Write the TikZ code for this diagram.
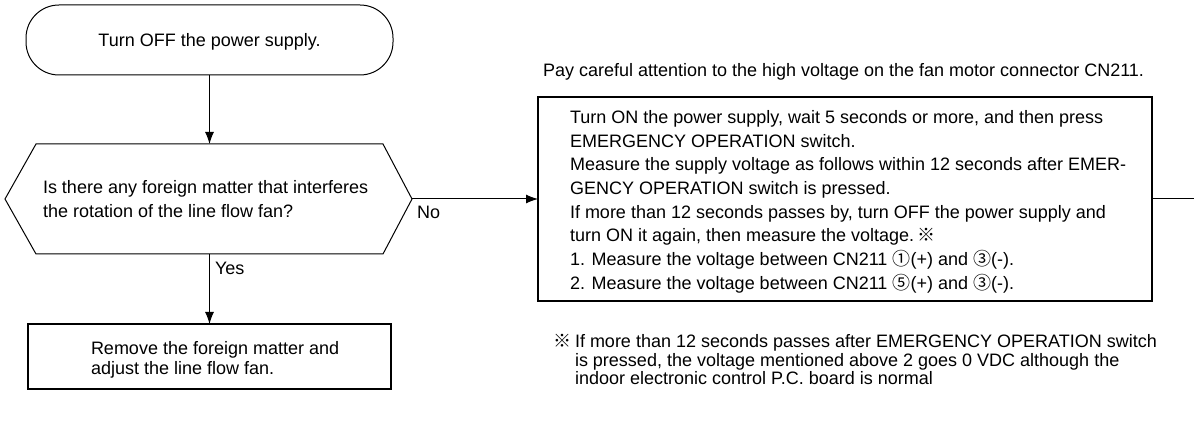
\documentclass[tikz,border=0pt]{standalone}
\usepackage{fontspec}
\setmainfont{Liberation Sans}
\newfontfamily\cjk{Noto Sans CJK JP}
\usetikzlibrary{arrows.meta}
\begin{document}
\begin{tikzpicture}[x=1pt,y=-1pt,
  font=\fontsize{18}{23.7}\selectfont,
  every node/.style={inner sep=0pt, outer sep=0pt},
  thin line/.style={line width=1pt},
  arr/.style={line width=1pt, -{Latex[length=12pt,width=9pt]}},
  txt/.style={anchor=base west},
  boxthick/.style={draw, line width=2pt},
  boxheavy/.style={draw, line width=2.6pt}]
\useasboundingbox (0,0) rectangle (1194,438);

% terminal
\node[draw, line width=1pt, rounded corners=33pt, minimum width=367pt, minimum height=70pt] (start) at (209.5,40) {};
\node (starttxt) at (209.5,42) {Turn OFF the power supply.};

% decision hexagon
\coordinate (dW) at (5,199);
\coordinate (dTL) at (36,144);
\coordinate (dTR) at (383,144);
\coordinate (dE) at (412,199);
\coordinate (dBR) at (383,254);
\coordinate (dBL) at (36,254);
\coordinate (dN) at (209.5,144);
\coordinate (dS) at (209.5,254);
\draw[thin line] (dW) -- (dTL) -- (dTR) -- (dE) -- (dBR) -- (dBL) -- cycle;
\node[txt] (q1) at (43,193.5) {Is there any foreign matter that interferes};
\node[txt] (q2) at (43,217.2) {the rotation of the line flow fan?};

% remove box
\node[boxheavy, minimum width=363pt, minimum height=65pt] (remove) at (209.5,356.5) {};
\node[txt] (r1) at (91,354.5) {Remove the foreign matter and};
\node[txt] (r2) at (91,374.5) {adjust the line flow fan.};

% measure box
\node[boxthick, minimum width=614pt, minimum height=204pt] (measure) at (845,199) {};
\node[txt] (m1) at (570,123.5) {Turn ON the power supply, wait 5 seconds or more, and then press};
\node[txt] (m2) at (570,147.2) {EMERGENCY OPERATION switch.};
\node[txt] (m3) at (570,170.9) {Measure the supply voltage as follows within 12 seconds after EMER-};
\node[txt] (m4) at (570,194.6) {GENCY OPERATION switch is pressed.};
\node[txt] (m5) at (570,218.3) {If more than 12 seconds passes by, turn OFF the power supply and};
\node[txt] (m6) at (570,242.0) {turn ON it again, then measure the voltage.\,{\cjk ※}};
\node[txt] (m7) at (570,265.7) {1. Measure the voltage between CN211 {\cjk ①}(+) and {\cjk ③}(-).};
\node[txt] (m8) at (570,289.4) {2. Measure the voltage between CN211 {\cjk ⑤}(+) and {\cjk ③}(-).};

% notes
\node[txt] (note) at (543,77) {Pay careful attention to the high voltage on the fan motor connector CN211.};
\node[txt] (fmark) at (553,347.5) {\cjk ※};
\node[txt] (f1) at (575,347.5) {If more than 12 seconds passes after EMERGENCY OPERATION switch};
\node[txt] (f2) at (575,366) {is pressed, the voltage mentioned above 2 goes 0 VDC although the};
\node[txt] (f3) at (575,384.5) {indoor electronic control P.C. board is normal};

% connectors
\draw[arr] (start.south) -- (dN);
\draw[arr] (dS) -- (remove.north);
\draw[arr] (dE) -- (measure.west);
\coordinate (exit) at (1194,199);
\draw[thin line] (measure.east) -- (exit);

% labels
\node[txt] (no) at (417,218.5) {No};
\node[txt] (yes) at (215,274.5) {Yes};
\end{tikzpicture}
\end{document}
